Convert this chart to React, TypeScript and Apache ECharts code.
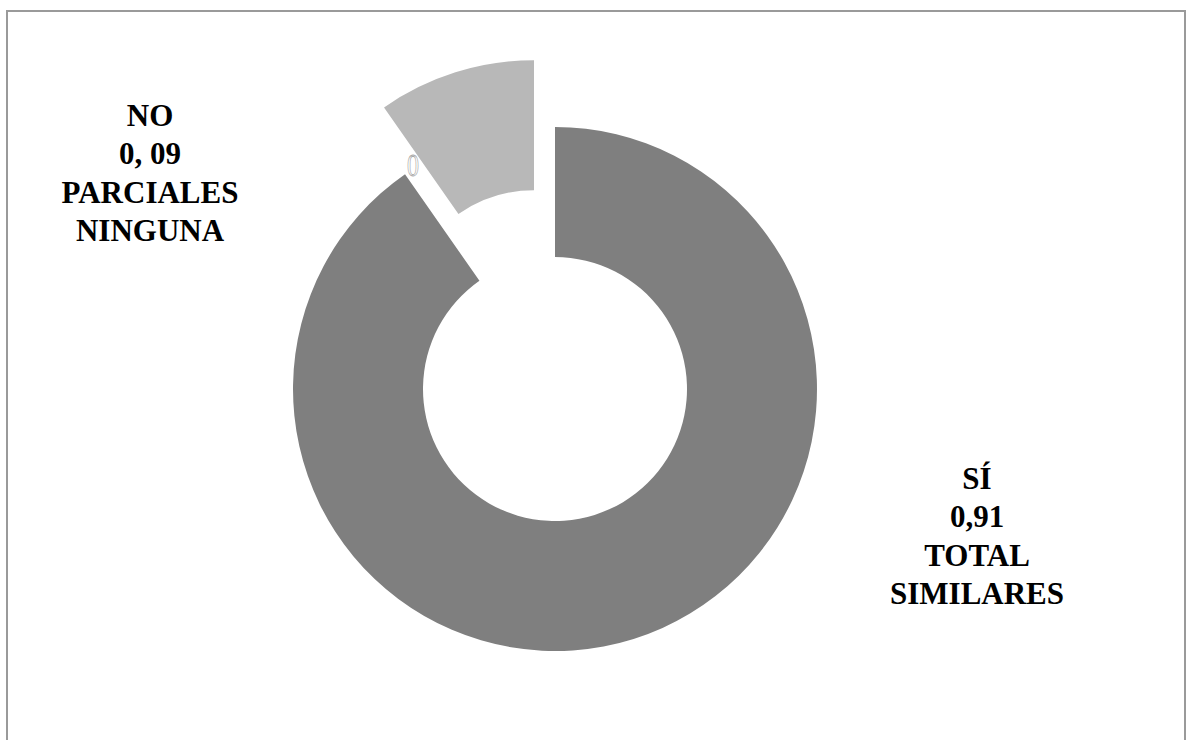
import React, { useEffect, useRef } from "react";
import * as echarts from "echarts";

const categories = ["SÍ", "NO"];
const values = [0.903, 0.097];
const labelLines = [
  ["SÍ", "0,91", "TOTAL", "SIMILARES"],
  ["NO", "0, 09", "PARCIALES", "NINGUNA"],
];
const colors = ["#7f7f7f", "#b8b8b8"];
const zeroLabel = "0";

export default function App() {
  const ref = useRef<HTMLDivElement>(null);
  useEffect(() => {
    if (!ref.current) return;
    const chart = echarts.init(ref.current, null, { renderer: "svg" });
    const labelPos = [
      { x: 977, y: 536 },
      { x: 150, y: 173 },
    ];
    const labelGraphics = labelLines.map((lines, i) => ({
      type: "text",
      x: labelPos[i].x,
      y: labelPos[i].y,
      silent: true,
      style: {
        text: lines.join("\n"),
        font: "bold 31px 'Liberation Serif', serif",
        lineHeight: 38.5,
        fill: "#000000",
        align: "center",
        verticalAlign: "middle",
      },
    }));
    chart.setOption({
      animation: false,
      backgroundColor: "#ffffff",
      graphic: [
        {
          type: "rect",
          shape: { x: 7, y: 11, width: 1178, height: 760 },
          style: { fill: "none", stroke: "#9a9a9a", lineWidth: 2 },
          silent: true,
        },
        ...labelGraphics,
        {
          type: "text",
          x: 413,
          y: 165,
          scaleX: 0.75,
          style: {
            text: zeroLabel,
            font: "normal 32px 'Liberation Serif'",
            fill: "none",
            stroke: "#a8a8a8",
            lineWidth: 0.8,
            align: "center",
            verticalAlign: "middle",
          },
          silent: true,
        },
      ],
      series: [
        {
          type: "pie",
          center: [555, 389],
          radius: [132, 262],
          startAngle: 90,
          clockwise: true,
          selectedMode: "single",
          selectedOffset: 70,
          silent: true,
          emphasis: { disabled: true },
          labelLine: { show: false },
          label: { show: false },
          data: categories.map((name, i) => ({
            name,
            value: values[i],
            selected: i === 1,
            itemStyle: { color: colors[i] },
          })),
        },
      ],
    });
    return () => chart.dispose();
  }, []);
  return (
    <div
      ref={ref}
      style={{ position: "fixed", left: 0, top: 0, width: 1193, height: 740, background: "#fff" }}
    />
  );
}
